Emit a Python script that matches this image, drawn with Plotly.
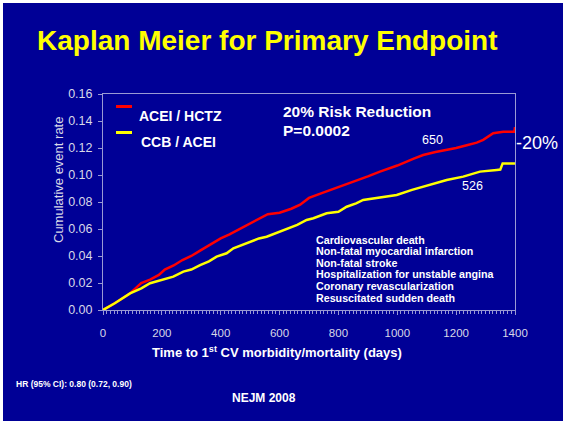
import plotly.graph_objects as go

# Kaplan-Meier curves (days, cumulative event rate)
acei_hctz_days = [0, 40, 90, 110, 130, 160, 190, 210, 240, 270, 300, 330, 360, 400, 430,
                  465, 500, 533, 560, 600, 640, 670, 700, 748, 800, 850, 900, 941, 1000,
                  1054, 1088, 1130, 1168, 1200, 1236, 1270, 1292, 1310, 1326, 1360, 1398, 1400]
acei_hctz_rate = [0, 0.005, 0.012, 0.016, 0.020, 0.0225, 0.026, 0.030, 0.033, 0.037, 0.040,
                  0.044, 0.048, 0.053, 0.056, 0.060, 0.064, 0.068, 0.071, 0.072, 0.075, 0.078,
                  0.083, 0.087, 0.091, 0.095, 0.099, 0.1025, 0.107, 0.112, 0.1148, 0.117,
                  0.1185, 0.120, 0.122, 0.124, 0.126, 0.129, 0.131, 0.132, 0.132, 0.1355]

ccb_acei_days = [0, 40, 92, 130, 160, 200, 239, 273, 300, 330, 360, 386, 420, 443, 470, 499,
                 530, 556, 590, 624, 660, 692, 715, 760, 800, 828, 860, 884, 940, 998, 1050,
                 1111, 1168, 1224, 1281, 1338, 1350, 1358, 1400]
ccb_acei_rate = [0, 0.005, 0.0123, 0.016, 0.0198, 0.022, 0.0247, 0.0284, 0.030, 0.0333, 0.036,
                 0.0395, 0.042, 0.0457, 0.048, 0.0506, 0.053, 0.0543, 0.057, 0.060, 0.063,
                 0.0667, 0.068, 0.0716, 0.0728, 0.0765, 0.079, 0.0815, 0.0835, 0.0852, 0.089,
                 0.0926, 0.0963, 0.0988, 0.1025, 0.1037, 0.1040, 0.1086, 0.1086]

endpunkter = ["Cardiovascular death", "Non-fatal myocardial infarction", "Non-fatal stroke",
              "Hospitalization for unstable angina", "Coronary revascularization",
              "Resuscitated sudden death"]

BG = "#000096"
AXIS = "#9a9ad4"
TICKTXT = "#d8d8e8"
FONT = "Liberation Sans, Arial, sans-serif"

# plot area in pixels: x 103..515, y 94..310
L, R, T, B = 103, 515, 94, 310


def px(x):
    return (x - L) / (R - L)


def py(y):
    return (B - y) / (B - T)


fig = go.Figure()
fig.add_trace(go.Scatter(x=acei_hctz_days, y=acei_hctz_rate, mode="lines",
                         line=dict(color="#ff0000", width=2.5), hoverinfo="skip"))
fig.add_trace(go.Scatter(x=ccb_acei_days, y=ccb_acei_rate, mode="lines",
                         line=dict(color="#ffff00", width=2.5), hoverinfo="skip"))

ann = []


def text(x, y, s, size, bold=False, color="white", xanchor="left", yanchor="middle"):
    ann.append(dict(x=px(x), y=py(y), xref="paper", yref="paper", text=f"<b>{s}</b>" if bold else s,
                    showarrow=False, xanchor=xanchor, yanchor=yanchor,
                    font=dict(size=size, color=color, family=FONT)))


text(267, 41, "Kaplan Meier for Primary Endpoint", 28, bold=True, color="#ffff00", xanchor="center")
text(137, 116, "ACEI / HCTZ", 14, bold=True)
text(139, 142, "CCB / ACEI", 14, bold=True)
text(281, 111, "20% Risk Reduction", 15.5, bold=True)
text(281, 130, "P=0.0002", 15.5, bold=True)
text(432, 140, "650", 12.5, xanchor="center")
text(472, 186, "526", 12.5, xanchor="center")
text(514, 143, "-20%", 18)
for i, e in enumerate(endpunkter):
    text(314, 239.5 + i * 11.6, e, 10.7, bold=True)
text(58, 180, "Cumulative event rate", 13, color=TICKTXT, xanchor="center")
ann[-1]["textangle"] = -90
text(277, 352, "Time to 1<sup>st</sup> CV morbidity/mortality (days)", 13, bold=True, xanchor="center")
text(14, 384, "HR (95% CI): 0.80 (0.72, 0.90)", 8.5, bold=True)
text(264, 398, "NEJM 2008", 12, bold=True, xanchor="center")

shapes = [
    dict(type="rect", xref="paper", yref="paper", x0=px(3), x1=px(600), y0=py(3), y1=py(421),
         fillcolor=BG, line=dict(width=0), layer="below"),
    dict(type="line", xref="paper", yref="paper", x0=px(116), x1=px(132), y0=py(106.5), y1=py(106.5),
         line=dict(color="#ff0000", width=3)),
    dict(type="line", xref="paper", yref="paper", x0=px(116), x1=px(132), y0=py(132.5), y1=py(132.5),
         line=dict(color="#ffff00", width=3)),
]

fig.update_layout(
    width=563, height=426,
    margin=dict(l=L, r=563 - R, t=T, b=426 - B, pad=0),
    paper_bgcolor="white", plot_bgcolor="rgba(0,0,0,0)",
    showlegend=False, annotations=ann, shapes=shapes,
    font=dict(family=FONT, color=TICKTXT),
    xaxis=dict(range=[0, 1400], dtick=200, showgrid=False, zeroline=False,
               showline=True, linecolor=AXIS, linewidth=1, mirror=True,
               ticks="outside", ticklen=4, tickcolor=AXIS, ticklabelstandoff=8,
               tickfont=dict(size=11.5, color=TICKTXT),
               minor=dict(dtick=12.5, ticks="outside", ticklen=3, tickcolor=AXIS)),
    yaxis=dict(range=[0, 0.16], dtick=0.02, tickformat=".2f", showgrid=False, zeroline=False,
               showline=True, linecolor=AXIS, linewidth=1, mirror=True,
               ticks="outside", ticklen=4, tickcolor=AXIS, ticklabelstandoff=3,
               tickfont=dict(size=12.5, color=TICKTXT)),
)

# page margin off so the figure sits at the window's top-left corner
fig.write_html("out.html", config={"displayModeBar": False},
               post_script="document.body.style.margin='0';")
